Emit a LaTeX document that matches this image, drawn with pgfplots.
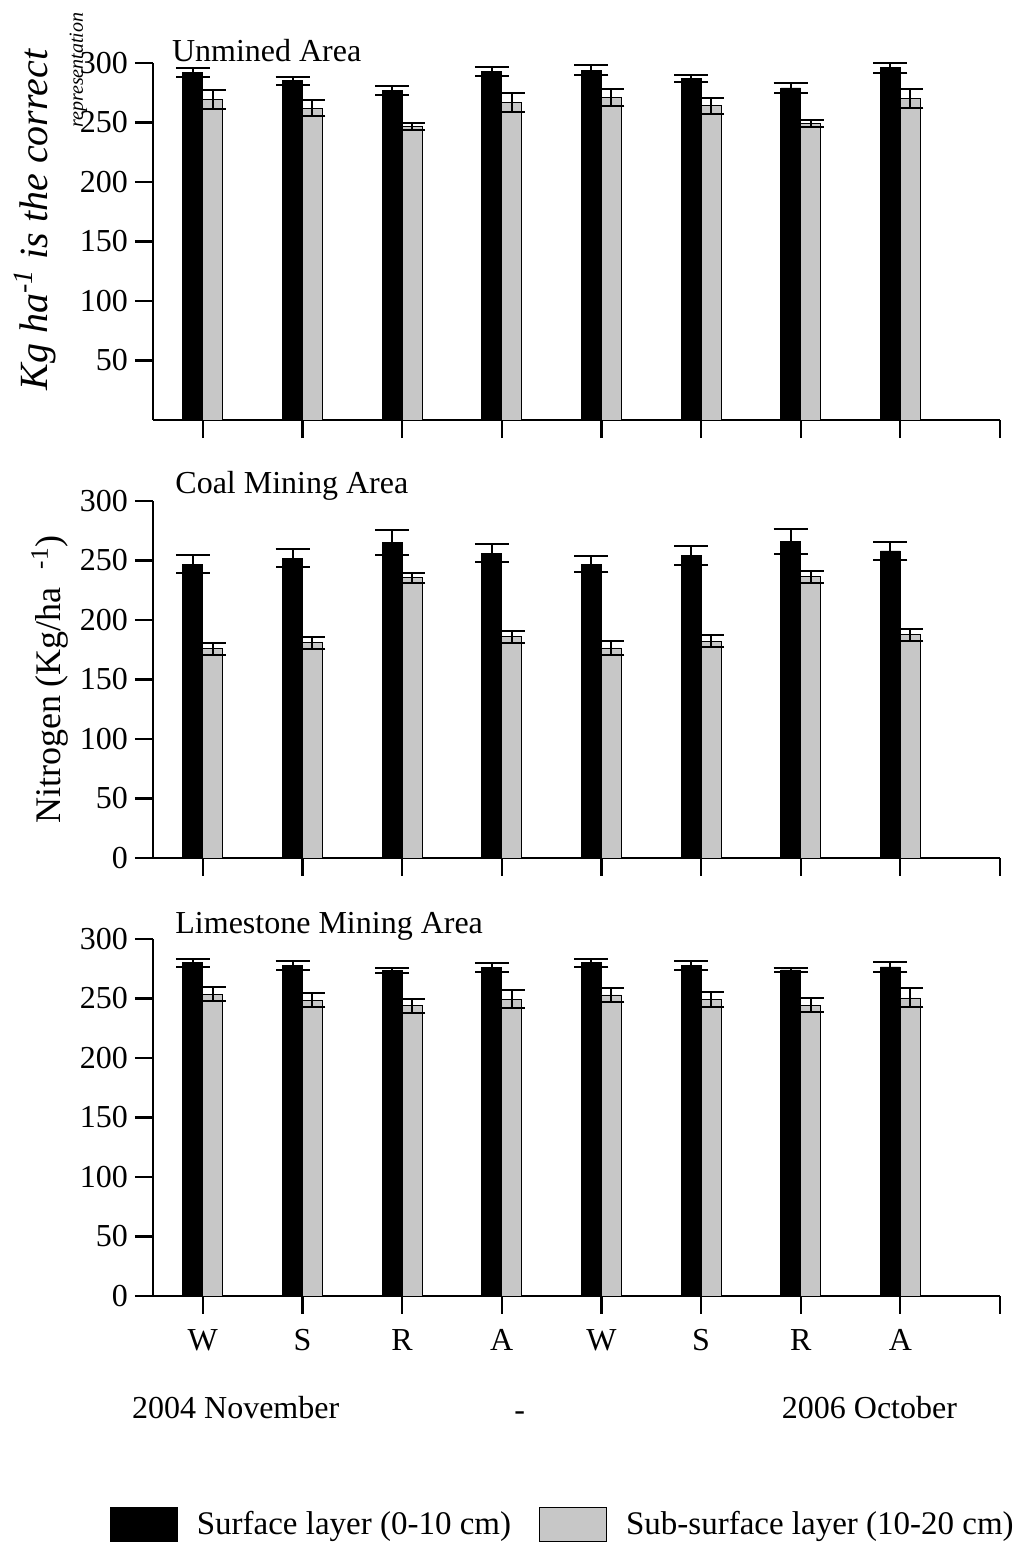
\documentclass[border=0pt]{standalone}
\usepackage{fontspec}
\setmainfont{Liberation Serif}
\usepackage{pgfplots}
\pgfplotsset{compat=1.18}
\usepackage{pgfplotstable}

% x = season index, s = surface layer mean, se = its error, b = sub-surface mean, be = its error
\pgfplotstableread{
x s se b be
1 292 3.5 269 8
2 285 3.5 262 6.5
3 277 4 247 3
4 293 4 267 8
5 294 4 271 7.5
6 287 3 264 6.5
7 279 4 249 3
8 296 4 270 8
}\unmined
\pgfplotstableread{
x s se b be
1 247 7.5 176 5
2 252 7.5 181 5
3 265 10.5 235.5 4
4 256 7.5 186 5
5 247 7 176.5 5.5
6 254 8 182 5
7 266 10.5 236.5 5
8 258 7.5 187.5 5
}\coal
\pgfplotstableread{
x s se b be
1 280 3.5 253.5 6
2 277.5 3.8 248.5 6
3 273.5 2 244 6
4 276 3.5 249.5 7.5
5 280 3.5 253 6
6 278 3.7 249 6.5
7 274 2 244.5 5.8
8 276.5 4 250.5 8
}\lime

\newcommand\bigfont{\fontsize{16}{18}\selectfont}

\pgfplotsset{
  panel/.style={
    width=423.5pt, height=178.5pt, scale only axis,
    xmin=0.5, xmax=9, ymin=0, ymax=300,
    axis lines=left, axis line style={-, line width=1.3pt},
    tick align=outside, major tick length=9pt,
    tick style={black, line width=1.1pt},
    xtick={1,...,9}, xticklabels={},
    ytick={0,50,...,300},
    ybar, bar width=0.2,
    clip=false,
    tick label style={font=\bigfont},
    xticklabel style={yshift=-4pt},
    /pgf/number format/assume math mode=true,
    legend image code/.code={\draw[##1, line width=0.6pt] (0pt,-8.5pt) rectangle (33.5pt,8.5pt); \path (41pt,0pt);},
  },
  surf/.style={fill=black, draw=black, bar shift=-0.1,
    error bars/y dir=both, error bars/y explicit,
    error bars/error bar style={black, line width=1pt},
    error bars/error mark options={black, rotate=90, mark size=8.5pt, line width=1pt}},
  sub/.style={fill=black!22, draw=black, bar shift=0.1,
    error bars/y dir=both, error bars/y explicit,
    error bars/error bar style={black, line width=1pt},
    error bars/error mark options={black, rotate=90, mark size=6.5pt, line width=1pt}},
}

\begin{document}
\begin{tikzpicture}

\begin{axis}[panel, name=p1, ytick={50,100,...,300}]
\addplot[surf] table[x=x, y=s, y error=se] {\unmined};
\addplot[sub] table[x=x, y=b, y error=be] {\unmined};
\node[anchor=base west, inner sep=0pt, font=\bigfont, yshift=1pt] at (rel axis cs:0.022,1) {Unmined Area};
\node[rotate=90, font=\fontsize{20}{22}\selectfont\itshape] at (axis description cs:-0.139,0.56) {Kg ha\textsuperscript{-1} is the correct};
\node[rotate=90, font=\fontsize{10}{12}\selectfont\itshape] at (axis description cs:-0.088,0.98) {representation};
\end{axis}

\path (p1.south west) ++(0pt,-40.5pt) coordinate (c2);

\begin{axis}[panel, name=p2, at={(c2)}, anchor=north west,
  ylabel={Nitrogen (Kg/ha\enspace\textsuperscript{-1})},
  ylabel style={at={(axis description cs:-0.122,0.5)}, anchor=center, font=\fontsize{18}{20}\selectfont}]
\addplot[surf] table[x=x, y=s, y error=se] {\coal};
\addplot[sub] table[x=x, y=b, y error=be] {\coal};
\node[anchor=base west, inner sep=0pt, font=\bigfont, yshift=4pt] at (rel axis cs:0.026,1) {Coal Mining Area};
\end{axis}

\path (p2.south west) ++(0pt,-40.5pt) coordinate (c3);

\begin{axis}[panel, name=p3, at={(c3)}, anchor=north west,
  xticklabels={W,S,R,A,W,S,R,A,},
  legend columns=2,
  legend style={at={(axis description cs:0.485,-0.641)}, anchor=center, draw=none,
    font=\fontsize{16.5}{18}\selectfont,
    /tikz/every even column/.append style={column sep=12pt}}]
\addplot[surf] table[x=x, y=s, y error=se] {\lime};
\addlegendentry{Surface layer (0-10 cm)}
\addplot[sub] table[x=x, y=b, y error=be] {\lime};
\addlegendentry{Sub-surface layer (10-20 cm)}
\node[anchor=base west, inner sep=0pt, font=\bigfont, yshift=3pt] at (rel axis cs:0.026,1) {Limestone Mining Area};
\node[font=\bigfont] at ([yshift=-56pt]axis cs:1.33,0) {2004 November};
\node[font=\bigfont] at ([yshift=-60pt]axis cs:4.18,0) {-};
\node[font=\bigfont] at ([yshift=-56pt]axis cs:7.69,0) {2006 October};
\end{axis}

\pgfresetboundingbox
\path[use as bounding box] ([shift={(-76.5pt,210pt)}]p1.south west) rectangle ([shift={(439.5pt,-566pt)}]p1.south west);
\end{tikzpicture}
\end{document}
